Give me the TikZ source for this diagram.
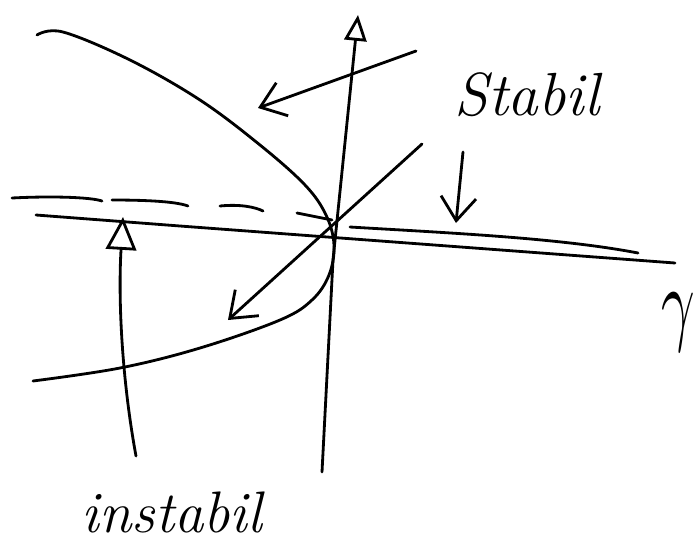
\documentclass[tikz,border=0pt]{standalone}
\usepackage{graphicx}
\usetikzlibrary{arrows.meta}
\begin{document}
\begin{tikzpicture}[x=0.03cm,y=-0.03cm,
  pen/.style={line width=2.4pt,line cap=round,line join=round},
  openhead/.style={-{Triangle[open,length=22pt,width=19pt,line width=2.4pt]}},
  bighead/.style={-{Triangle[open,length=28pt,width=26pt,line width=2.4pt]}},
  barbhead/.style={-{Straight Barb[length=20pt,width=30pt,line width=2.4pt]}},
  lbl/.style={inner sep=0pt}]
\useasboundingbox (0,0) rectangle (696,549);
% coordinates
\coordinate (haxL) at (36,215);
\coordinate (haxR) at (675,263);
\coordinate (vaxB) at (322,472);
\coordinate (vaxT) at (358,15);
\coordinate (stL) at (350,227);
\coordinate (stR) at (638,253);
\coordinate (diagA) at (422,144);
\coordinate (diagB) at (228,320);
\coordinate (upA) at (416,51);
\coordinate (upB) at (258,108);
\coordinate (dnA) at (463,152);
\coordinate (dnB) at (456,223);
\coordinate (inA) at (136,456);
\coordinate (inB) at (123,217);
% horizontal axis
\draw[pen] (haxL) -- (180,226) -- (haxR);
% dashed unstable branch
\draw[pen] (12,198) .. controls (50,196) and (90,197) .. (102,201);
\draw[pen] (112,200) .. controls (140,200) and (175,201) .. (188,206);
\draw[pen] (220,206) .. controls (240,204) and (255,207) .. (263,211);
\draw[pen] (297,213) -- (332,220);
% stable branch
\draw[pen] (stL) .. controls (450,233) and (560,238) .. (stR);
% parabola
\draw[pen] plot[smooth,tension=0.6] coordinates {(37,35) (63,32) (130,60) (200,100) (260,145) (305,185) (326,215) (334,245) (329,275) (312,300) (280,320) (200,348) (120,368) (33,381)};
% vertical axis
\draw[pen,openhead] (vaxB) -- (333,260) -- (vaxT);
% diagonal
\draw[pen,barbhead] (diagA) -- (diagB);
% arrow to upper branch
\draw[pen,barbhead] (upA) -- (upB);
% arrow down from Stabil
\draw[pen,barbhead] (dnA) -- (dnB);
% arrow from instabil
\draw[pen,bighead] (inA) .. controls (122,380) and (118,300) .. (inB);
% labels
\node[lbl,font=\itshape\fontsize{52}{60}\selectfont] (stabil) at (527,95) {Stabil};
\node[lbl,font=\itshape\fontsize{50}{60}\selectfont] (instabil) at (172,512) {instabil};
\node[lbl] (gamma) at (678,322) {\scalebox{5}[8]{$\gamma$}};
\end{tikzpicture}
\end{document}
